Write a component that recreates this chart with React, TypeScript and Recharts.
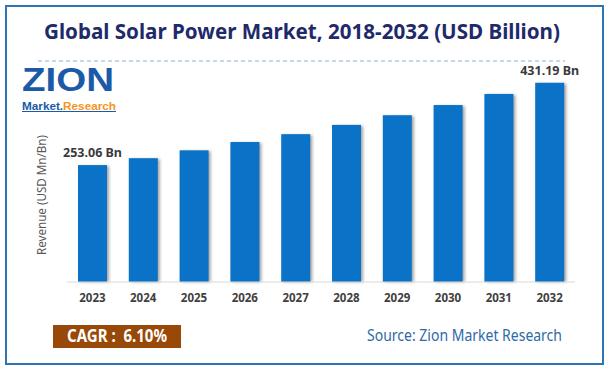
import { BarChart, Bar, XAxis, YAxis, LabelList } from 'recharts';

// Años y valores (USD Bn)
const years = ['2023', '2024', '2025', '2026', '2027', '2028', '2029', '2030', '2031', '2032'];
const revenue = [253.06, 268, 285, 303, 320, 340, 361, 383, 407, 431.19];
const shownLabels = ['253.06 Bn', '', '', '', '', '', '', '', '', '431.19 Bn'];

const data = years.map((year, i) => ({ year, value: revenue[i], label: shownLabels[i] }));

const FONT = '"Noto Sans", "Open Sans", sans-serif';
const LOGO_FONT = '"Liberation Sans", Arial, sans-serif';
const BAR_COLOR = '#0a73c7';

// Barra con sombra gris a la derecha
const ShadowBar = (props: any) => {
  const { x, y, width, height } = props;
  return (
    <g>
      <rect x={x + 2} y={y + 1} width={width} height={height - 1} fill="#555" opacity={0.55} filter="url(#barBlur)" />
      <rect x={x} y={y} width={width} height={height} fill={BAR_COLOR} />
    </g>
  );
};

const TopLabel = (props: any) => {
  const { x, y, width, value } = props;
  if (!value) return null;
  return (
    <text
      x={x + width / 2}
      y={y - 8}
      textAnchor="middle"
      fontFamily={FONT}
      fontSize={12.5}
      fontWeight="bold"
      fill="#3a3a3a"
    >
      {value}
    </text>
  );
};

export default function App() {
  return (
    <div style={{ position: 'absolute', left: 0, top: 0, width: 610, height: 371, background: '#fff' }}>
      <svg width={610} height={371} style={{ position: 'absolute', left: 0, top: 0 }}>
        <defs>
          <filter id="barBlur" x="-50%" y="-10%" width="200%" height="120%">
            <feGaussianBlur stdDeviation="1.6" />
          </filter>
        </defs>
        <rect x={6} y={6} width={597} height={358} fill="none" stroke="#2e75b6" strokeWidth={2} />
        <text
          x={302}
          y={39}
          textAnchor="middle"
          fontFamily={FONT}
          fontSize={22}
          fontWeight="bold"
          fill="#1f2a6b"
          textLength={516}
          lengthAdjust="spacingAndGlyphs"
        >
          Global Solar Power Market, 2018-2032 (USD Billion)
        </text>
        <line x1={38} y1={61} x2={565} y2={61} stroke="#8eaadb" strokeWidth={1} strokeDasharray="4 3" />

        {/* logo */}
        <text x={22} y={91} fontFamily={LOGO_FONT} fontSize={33} fontWeight="bold" fill="#1c5aa8" textLength={92} lengthAdjust="spacingAndGlyphs">
          ZION
        </text>
        <text x={22} y={109.5} fontFamily={LOGO_FONT} fontSize={11.5} fontWeight="bold" textLength={94} lengthAdjust="spacingAndGlyphs">
          <tspan fill="#1c5aa8">Market.</tspan>
          <tspan fill="#f7941d">Research</tspan>
        </text>
        <line x1={22} y1={111.5} x2={116} y2={111.5} stroke="#1c5aa8" strokeWidth={1} />

        <text
          transform="translate(46,195) rotate(-90)"
          textAnchor="middle"
          fontFamily={FONT}
          fontSize={12}
          fill="#595959"
          textLength={120}
          lengthAdjust="spacingAndGlyphs"
        >
          Revenue (USD Mn/Bn)
        </text>

        <rect x={53} y={325} width={128} height={23} fill="#984807" />
        <text
          x={117}
          y={342}
          textAnchor="middle"
          fontFamily={FONT}
          fontSize={17}
          fontWeight="bold"
          fill="#fff"
          textLength={100}
          lengthAdjust="spacingAndGlyphs"
          style={{ whiteSpace: 'pre' }}
        >
          {'CAGR :  6.10%'}
        </text>
        <text
          x={367}
          y={341}
          fontFamily={FONT}
          fontSize={16}
          fill="#2f6aa6"
          textLength={195}
          lengthAdjust="spacingAndGlyphs"
        >
          Source: Zion Market Research
        </text>
      </svg>

      <div style={{ position: 'absolute', left: 0, top: 0 }}>
        <BarChart width={610} height={371} data={data} margin={{ top: 51, right: 35, bottom: 59, left: 67 }}>
          <XAxis
            dataKey="year"
            height={30}
            axisLine={{ stroke: '#d9d9d9' }}
            tickLine={false}
            tickMargin={6}
            interval={0}
            tick={{ fill: '#404040', fontSize: 11.5, fontWeight: 'bold', fontFamily: FONT }}
          />
          <YAxis hide domain={[0, 500]} />
          <Bar dataKey="value" barSize={29} shape={ShadowBar} isAnimationActive={false}>
            <LabelList dataKey="label" content={TopLabel} />
          </Bar>
        </BarChart>
      </div>
    </div>
  );
}
